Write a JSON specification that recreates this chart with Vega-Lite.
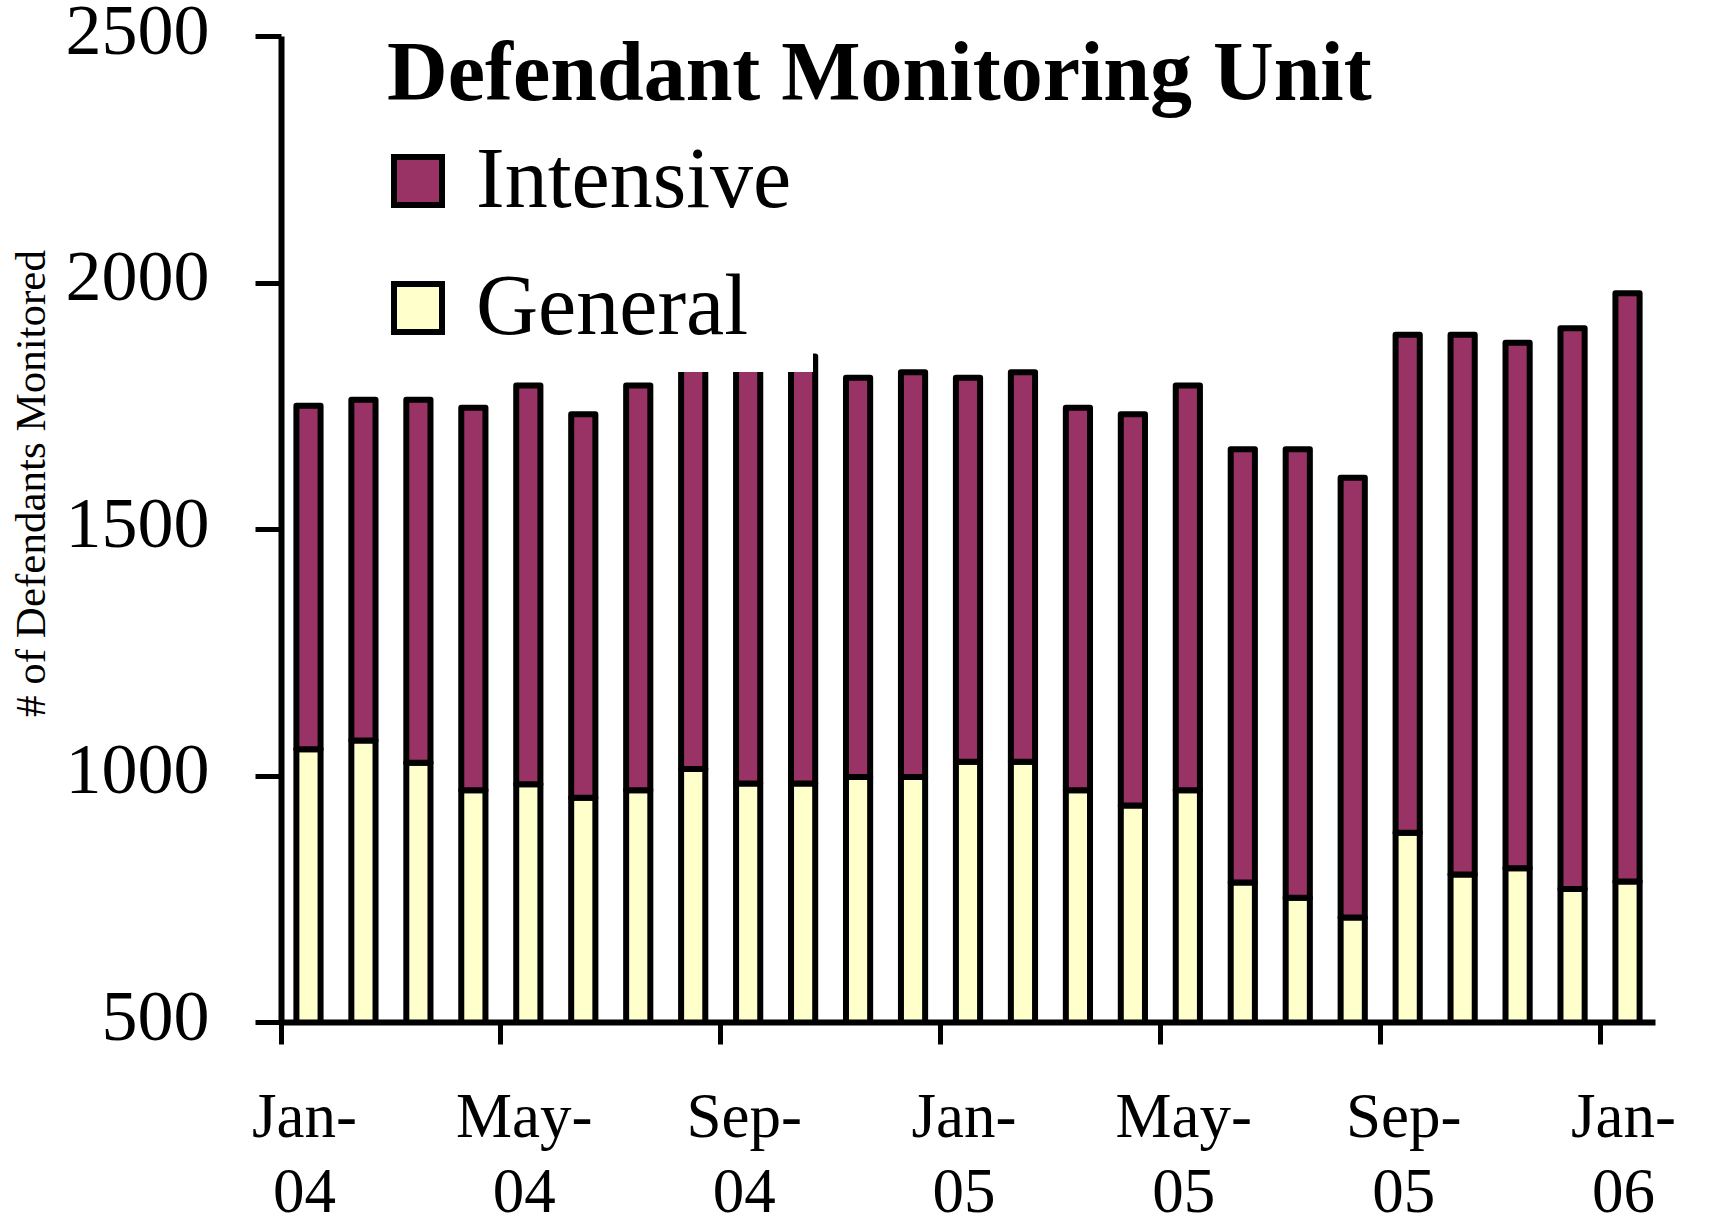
{
  "$schema": "https://vega.github.io/schema/vega-lite/v6.json",
  "width": 1374,
  "height": 986,
  "autosize": {"type": "none"},
  "padding": {"left": 281, "top": 36, "right": 68, "bottom": 205},
  "background": "white",
  "config": {"view": {"stroke": null}, "font": "Liberation Serif"},
  "title": {"text": "Defendant Monitoring Unit", "anchor": "start", "frame": "group", "orient": "top", "offset": 0, "dx": 106, "dy": 189, "baseline": "alphabetic", "font": "Liberation Serif", "fontSize": 84, "fontWeight": "bold", "color": "black"},
  "data": {"values": [
    {"month": "Jan-04", "type": "General", "count": 1053}, {"month": "Jan-04", "type": "Intensive", "count": 697},
    {"month": "Feb-04", "type": "General", "count": 1071}, {"month": "Feb-04", "type": "Intensive", "count": 691},
    {"month": "Mar-04", "type": "General", "count": 1026}, {"month": "Mar-04", "type": "Intensive", "count": 736},
    {"month": "Apr-04", "type": "General", "count": 970}, {"month": "Apr-04", "type": "Intensive", "count": 776},
    {"month": "May-04", "type": "General", "count": 982}, {"month": "May-04", "type": "Intensive", "count": 809},
    {"month": "Jun-04", "type": "General", "count": 955}, {"month": "Jun-04", "type": "Intensive", "count": 778},
    {"month": "Jul-04", "type": "General", "count": 970}, {"month": "Jul-04", "type": "Intensive", "count": 821},
    {"month": "Aug-04", "type": "General", "count": 1013}, {"month": "Aug-04", "type": "Intensive", "count": 837},
    {"month": "Sep-04", "type": "General", "count": 984}, {"month": "Sep-04", "type": "Intensive", "count": 866},
    {"month": "Oct-04", "type": "General", "count": 984}, {"month": "Oct-04", "type": "Intensive", "count": 866},
    {"month": "Nov-04", "type": "General", "count": 997}, {"month": "Nov-04", "type": "Intensive", "count": 810},
    {"month": "Dec-04", "type": "General", "count": 997}, {"month": "Dec-04", "type": "Intensive", "count": 821},
    {"month": "Jan-05", "type": "General", "count": 1028}, {"month": "Jan-05", "type": "Intensive", "count": 779},
    {"month": "Feb-05", "type": "General", "count": 1028}, {"month": "Feb-05", "type": "Intensive", "count": 790},
    {"month": "Mar-05", "type": "General", "count": 970}, {"month": "Mar-05", "type": "Intensive", "count": 776},
    {"month": "Apr-05", "type": "General", "count": 939}, {"month": "Apr-05", "type": "Intensive", "count": 794},
    {"month": "May-05", "type": "General", "count": 970}, {"month": "May-05", "type": "Intensive", "count": 821},
    {"month": "Jun-05", "type": "General", "count": 783}, {"month": "Jun-05", "type": "Intensive", "count": 879},
    {"month": "Jul-05", "type": "General", "count": 752}, {"month": "Jul-05", "type": "Intensive", "count": 910},
    {"month": "Aug-05", "type": "General", "count": 712}, {"month": "Aug-05", "type": "Intensive", "count": 892},
    {"month": "Sep-05", "type": "General", "count": 884}, {"month": "Sep-05", "type": "Intensive", "count": 1010},
    {"month": "Oct-05", "type": "General", "count": 799}, {"month": "Oct-05", "type": "Intensive", "count": 1095},
    {"month": "Nov-05", "type": "General", "count": 812}, {"month": "Nov-05", "type": "Intensive", "count": 1066},
    {"month": "Dec-05", "type": "General", "count": 770}, {"month": "Dec-05", "type": "Intensive", "count": 1137},
    {"month": "Jan-06", "type": "General", "count": 785}, {"month": "Jan-06", "type": "Intensive", "count": 1193}
  ]},
  "mark": {"type": "bar", "stroke": "black", "strokeWidth": 6, "strokeJoin": "round", "width": {"band": 0.44}, "clip": true},
  "encoding": {
    "x": {
      "field": "month", "type": "ordinal", "sort": null,
      "scale": {"paddingInner": 0, "paddingOuter": 0},
      "axis": {
        "title": null,
        "values": ["Jan-04", "May-04", "Sep-04", "Jan-05", "May-05", "Sep-05", "Jan-06"],
        "bandPosition": 0, "labelOffset": -4,
        "tickSize": 22, "tickWidth": 5, "tickColor": "black",
        "domainColor": "black", "domainWidth": 6,
        "labelAngle": 0, "labelAlign": "center", "labelBaseline": "top",
        "labelFont": "Liberation Serif", "labelFontSize": 63, "labelColor": "black",
        "labelPadding": 42, "labelLineHeight": 75,
        "labelExpr": "[slice(datum.value, 0, 4), slice(datum.value, 4)]",
        "zindex": 1
      }
    },
    "y": {
      "field": "count", "type": "quantitative",
      "scale": {"domain": [500, 2500], "nice": false, "zero": false},
      "axis": {
        "title": "# of Defendants Monitored",
        "values": [500, 1000, 1500, 2000, 2500],
        "format": "d",
        "grid": false,
        "tickSize": 26, "tickWidth": 5, "tickColor": "black",
        "domainColor": "black", "domainWidth": 6,
        "labelFont": "Liberation Serif", "labelFontSize": 72, "labelColor": "black",
        "labelPadding": 46, "labelBaseline": "middle", "labelOffset": -5,
        "titleFont": "Liberation Serif", "titleFontSize": 43, "titleFontWeight": "normal", "titleColor": "black",
        "titleX": -250, "titleY": 447, "titleAngle": 270, "titleAlign": "center", "titleBaseline": "middle",
        "zindex": 1
      }
    },
    "color": {
      "field": "type", "type": "nominal",
      "scale": {"domain": ["Intensive", "General"], "range": ["#993366", "#FFFFCC"]},
      "legend": {
        "title": null, "orient": "none", "legendX": 73, "legendY": 81,
        "fillColor": "white", "padding": 21,
        "symbolType": "square", "symbolSize": 2304, "symbolStrokeColor": "black", "symbolStrokeWidth": 6,
        "labelFont": "Liberation Serif", "labelFontSize": 86, "labelColor": "black",
        "labelExpr": "datum.label + '\u00a0\u00a0\u00a0\u00a0\u00a0\u00a0'",
        "labelOffset": 15, "rowPadding": 41, "labelLimit": 0, "direction": "vertical"
      }
    },
    "order": {"field": "type"}
  }
}
